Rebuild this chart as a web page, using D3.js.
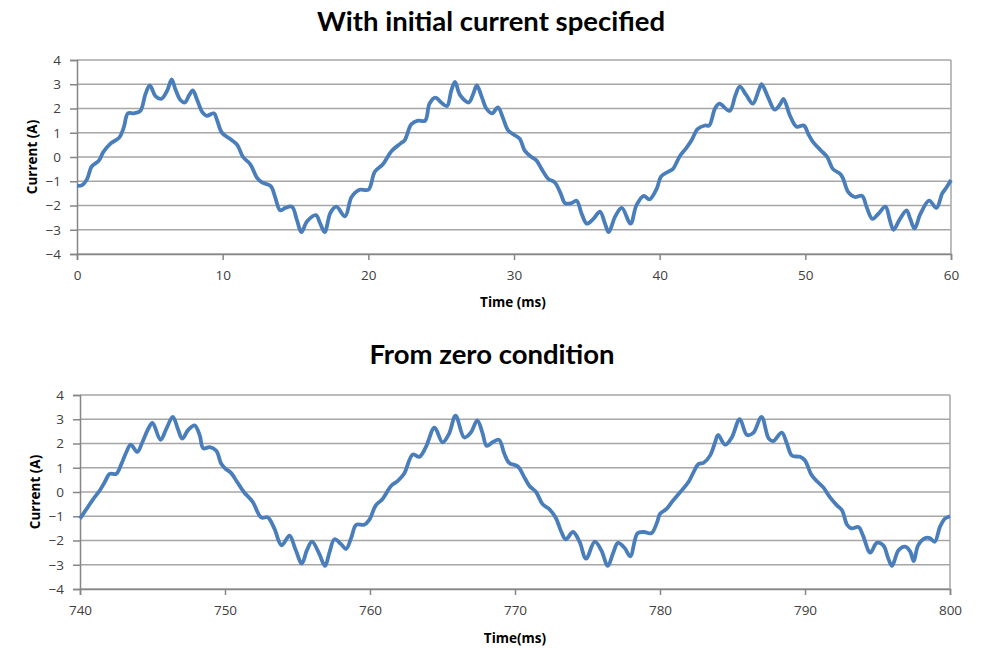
<!DOCTYPE html>
<html>
<head>
<meta charset="utf-8">
<script src="https://cdn.jsdelivr.net/npm/d3@7"></script>
<style>
    body { margin: 0; background: #fff; }
    svg { display: block; }
    .tick text { font-family: 'Open Sans', sans-serif; font-size: 13.5px; fill: #404040; }
    .title { font-family: Lato, 'Open Sans', sans-serif; font-weight: bold; font-size: 27.5px; fill: #000; }
    .axis-title { font-family: 'Open Sans', sans-serif; font-weight: bold; font-size: 13.5px; fill: #000; }
</style>
</head>
<body>
<svg id="chart" width="981" height="648"></svg>
<script>
// top chart: with initial current specified
const timeA = [0, 0.35, 0.7, 1.0, 1.5, 1.8, 2.3, 2.9, 3.2, 3.5, 3.9, 4.35, 4.7, 5.0, 5.4, 5.8, 6.2, 6.5, 6.75, 7.1,
    7.4, 7.7, 7.95, 8.25, 8.6, 8.9, 9.4, 9.6, 9.95, 10.5, 11.0, 11.4, 11.9, 12.35, 12.7, 13.3, 13.6, 13.95, 14.3, 14.75,
    15.1, 15.4, 15.8, 16.4, 16.7, 17.0, 17.4, 17.8, 18.4, 18.85, 19.4, 20.0, 20.45, 21.0, 21.6, 22.2, 22.5, 22.95, 23.4, 23.9,
    24.2, 24.6, 25.0, 25.4, 25.7, 25.95, 26.3, 26.9, 27.2, 27.45, 27.8, 28.1, 28.5, 28.9, 29.25, 29.6, 30.05, 30.4, 30.75, 31.2,
    31.55, 31.9, 32.35, 32.8, 33.2, 33.5, 33.95, 34.3, 34.65, 35.0, 35.45, 35.9, 36.25, 36.5, 36.95, 37.4, 38.0, 38.4, 38.9, 39.3,
    39.8, 40.1, 40.6, 40.9, 41.4, 41.8, 42.2, 42.6, 43.1, 43.4, 43.8, 44.1, 44.8, 45.2, 45.5, 45.95, 46.4, 46.8, 47.0, 47.45,
    47.9, 48.3, 48.5, 48.95, 49.4, 49.9, 50.2, 50.55, 51.1, 51.5, 51.9, 52.4, 52.6, 52.95, 53.4, 53.9, 54.2, 54.6, 55.0, 55.5,
    55.8, 56.05, 56.5, 56.95, 57.2, 57.5, 57.9, 58.5, 59.0, 59.4, 59.7, 60.0];
const currentA = [-1.19, -1.16, -0.9, -0.4, -0.15, 0.2, 0.55, 0.8, 1.2, 1.8, 1.8, 1.9, 2.6, 2.95, 2.5, 2.4, 2.75, 3.2, 2.8, 2.35,
    2.25, 2.55, 2.75, 2.35, 1.85, 1.7, 1.8, 1.55, 1.0, 0.75, 0.5, 0.0, -0.3, -0.85, -1.05, -1.2, -1.65, -2.2, -2.1, -2.05,
    -2.6, -3.1, -2.65, -2.4, -2.75, -3.1, -2.3, -2.05, -2.45, -1.65, -1.35, -1.35, -0.6, -0.3, 0.25, 0.55, 0.7, 1.35, 1.5, 1.5,
    2.2, 2.45, 2.25, 2.1, 2.75, 3.1, 2.55, 2.25, 2.6, 2.95, 2.45, 2.0, 1.8, 2.05, 1.6, 1.1, 0.9, 0.75, 0.25, 0.0,
    -0.15, -0.5, -0.9, -1.05, -1.5, -1.9, -1.9, -1.8, -2.35, -2.75, -2.55, -2.25, -2.75, -3.1, -2.45, -2.1, -2.75, -2.0, -1.6, -1.75,
    -1.3, -0.8, -0.6, -0.5, 0.05, 0.35, 0.7, 1.15, 1.3, 1.3, 2.0, 2.2, 1.9, 2.55, 2.9, 2.55, 2.2, 2.75, 3.0, 2.45,
    1.95, 2.2, 2.4, 1.7, 1.25, 1.3, 0.95, 0.6, 0.25, 0.0, -0.5, -0.7, -0.9, -1.45, -1.65, -1.6, -2.05, -2.55, -2.35, -2.05,
    -2.6, -3.0, -2.55, -2.2, -2.55, -2.95, -2.35, -1.8, -2.1, -1.5, -1.25, -0.95];

// bottom chart: from zero condition
const timeB = [740, 740.45, 740.9, 741.35, 741.7, 742.05, 742.5, 742.85, 743.2, 743.5, 743.95, 744.3, 744.7, 745.0, 745.55, 745.95, 746.4, 746.75, 747.05, 747.45,
    747.9, 748.25, 748.5, 748.95, 749.4, 749.75, 750.05, 750.4, 750.85, 751.3, 751.9, 752.5, 752.95, 753.4, 753.9, 754.45, 754.85, 755.3, 755.65, 756.0,
    756.5, 756.9, 757.2, 757.55, 758.0, 758.35, 758.7, 759.05, 759.6, 759.95, 760.4, 760.85, 761.45, 761.9, 762.35, 762.95, 763.4, 763.85, 764.45, 765.0,
    765.45, 765.9, 766.5, 766.95, 767.4, 767.75, 768.05, 768.45, 768.9, 769.25, 769.6, 770.2, 770.65, 771.0, 771.45, 771.9, 772.35, 772.8, 773.2, 773.5,
    774.0, 774.45, 774.9, 775.5, 775.95, 776.4, 776.75, 777.1, 777.55, 777.95, 778.45, 778.9, 779.4, 779.8, 780.0, 780.45, 780.9, 781.4, 781.95, 782.3,
    782.65, 783.0, 783.45, 783.8, 784.0, 784.5, 784.95, 785.5, 786.0, 786.45, 787.0, 787.5, 787.8, 788.4, 788.75, 789.1, 789.65, 790.0, 790.45, 790.9,
    791.25, 791.7, 792.2, 792.55, 792.9, 793.2, 793.7, 794.0, 794.5, 794.95, 795.4, 795.75, 796.0, 796.45, 796.9, 797.25, 797.5, 797.8, 798.3, 798.6,
    798.95, 799.3, 799.65, 800.0];
const currentB = [-1.1, -0.7, -0.3, 0.05, 0.4, 0.75, 0.75, 1.15, 1.65, 1.95, 1.65, 2.05, 2.6, 2.85, 2.15, 2.6, 3.1, 2.6, 2.2, 2.55,
    2.75, 2.35, 1.8, 1.85, 1.7, 1.15, 0.95, 0.8, 0.4, 0.0, -0.4, -1.05, -1.05, -1.5, -2.2, -1.8, -2.35, -2.95, -2.4, -2.05,
    -2.55, -3.05, -2.5, -1.95, -2.15, -2.35, -1.9, -1.35, -1.35, -1.15, -0.55, -0.3, 0.25, 0.45, 0.75, 1.55, 1.45, 1.85, 2.65, 2.05,
    2.4, 3.15, 2.25, 2.45, 2.95, 2.45, 1.9, 2.05, 2.15, 1.6, 1.2, 1.05, 0.6, 0.25, 0.0, -0.5, -0.7, -1.05, -1.65, -1.95,
    -1.65, -2.05, -2.75, -2.05, -2.4, -3.05, -2.55, -2.1, -2.3, -2.65, -1.7, -1.65, -1.7, -1.25, -0.9, -0.7, -0.35, 0.0, 0.4, 0.8,
    1.15, 1.2, 1.5, 2.05, 2.35, 1.95, 2.25, 3.0, 2.35, 2.45, 3.1, 2.2, 2.1, 2.45, 2.0, 1.5, 1.45, 1.3, 0.7, 0.4,
    0.2, -0.2, -0.55, -0.75, -1.35, -1.5, -1.45, -1.8, -2.5, -2.1, -2.2, -2.75, -3.05, -2.4, -2.25, -2.45, -2.85, -2.2, -1.9, -1.9,
    -2.05, -1.45, -1.1, -1.0];

const yTicks = [-4, -3, -2, -1, 0, 1, 2, 3, 4];
const xTicksA = [0, 10, 20, 30, 40, 50, 60];
const xTicksB = [740, 750, 760, 770, 780, 790, 800];

const svg = d3.select('#chart');

function drawChart(opts) {
    const x = d3.scaleLinear().domain(opts.xDomain).range([opts.left, opts.right]);
    const y = d3.scaleLinear().domain([-4, 4]).range([opts.bottom, opts.top]);
    const g = svg.append('g');

    // horizontal gridlines
    g.selectAll('.grid')
        .data(yTicks)
        .enter()
        .append('line')
        .attr('x1', opts.left)
        .attr('x2', opts.right)
        .attr('y1', d => y(d))
        .attr('y2', d => y(d))
        .attr('stroke', '#a6a6a6')
        .attr('stroke-width', 1.5);

    // right border
    g.append('line')
        .attr('x1', opts.right).attr('x2', opts.right)
        .attr('y1', opts.top).attr('y2', opts.bottom)
        .attr('stroke', '#a6a6a6')
        .attr('stroke-width', 1.5);

    const xAxis = g.append('g')
        .attr('transform', `translate(0,${opts.bottom})`)
        .call(d3.axisBottom(x).tickValues(opts.xTicks).tickSize(6).tickPadding(10).tickFormat(d3.format('d')));

    const yAxis = g.append('g')
        .attr('transform', `translate(${opts.left},0)`)
        .call(d3.axisLeft(y).tickValues(yTicks).tickSize(7).tickPadding(9).tickFormat(d3.format('d')));

    [xAxis, yAxis].forEach(ax => {
        ax.select('.domain').attr('stroke', '#868686').attr('stroke-width', 1.5);
        ax.selectAll('.tick line').attr('stroke', '#868686').attr('stroke-width', 1.5);
    });

    const line = d3.line()
        .x((d, i) => x(opts.times[i]))
        .y(d => y(d))
        .curve(d3.curveCatmullRom.alpha(0.5));

    g.append('path')
        .datum(opts.values)
        .attr('fill', 'none')
        .attr('stroke', '#4a7ebb')
        .attr('stroke-width', 3.8)
        .attr('stroke-linejoin', 'round')
        .attr('d', line);

    svg.append('text')
        .attr('class', 'title')
        .attr('x', opts.titleX)
        .attr('y', opts.titleY)
        .attr('text-anchor', 'middle')
        .text(opts.title);

    svg.append('text')
        .attr('class', 'axis-title')
        .attr('x', opts.xTitleX)
        .attr('y', opts.xTitleY)
        .attr('text-anchor', 'middle')
        .text(opts.xTitle);

    svg.append('text')
        .attr('class', 'axis-title')
        .attr('transform', `translate(${opts.yTitleX},${(opts.top + opts.bottom) / 2}) rotate(-90)`)
        .attr('text-anchor', 'middle')
        .text('Current (A)');
}

drawChart({
    times: timeA, values: currentA, xDomain: [0, 60], xTicks: xTicksA,
    left: 77, right: 951, top: 60, bottom: 254,
    title: 'With initial current specified', titleX: 491, titleY: 31,
    xTitle: 'Time (ms)', xTitleX: 513, xTitleY: 307, yTitleX: 37
});

drawChart({
    times: timeB, values: currentB, xDomain: [740, 800], xTicks: xTicksB,
    left: 80, right: 950, top: 395, bottom: 589,
    title: 'From zero condition', titleX: 492, titleY: 364,
    xTitle: 'Time(ms)', xTitleX: 515, xTitleY: 643, yTitleX: 40
});
</script>
</body>
</html>
